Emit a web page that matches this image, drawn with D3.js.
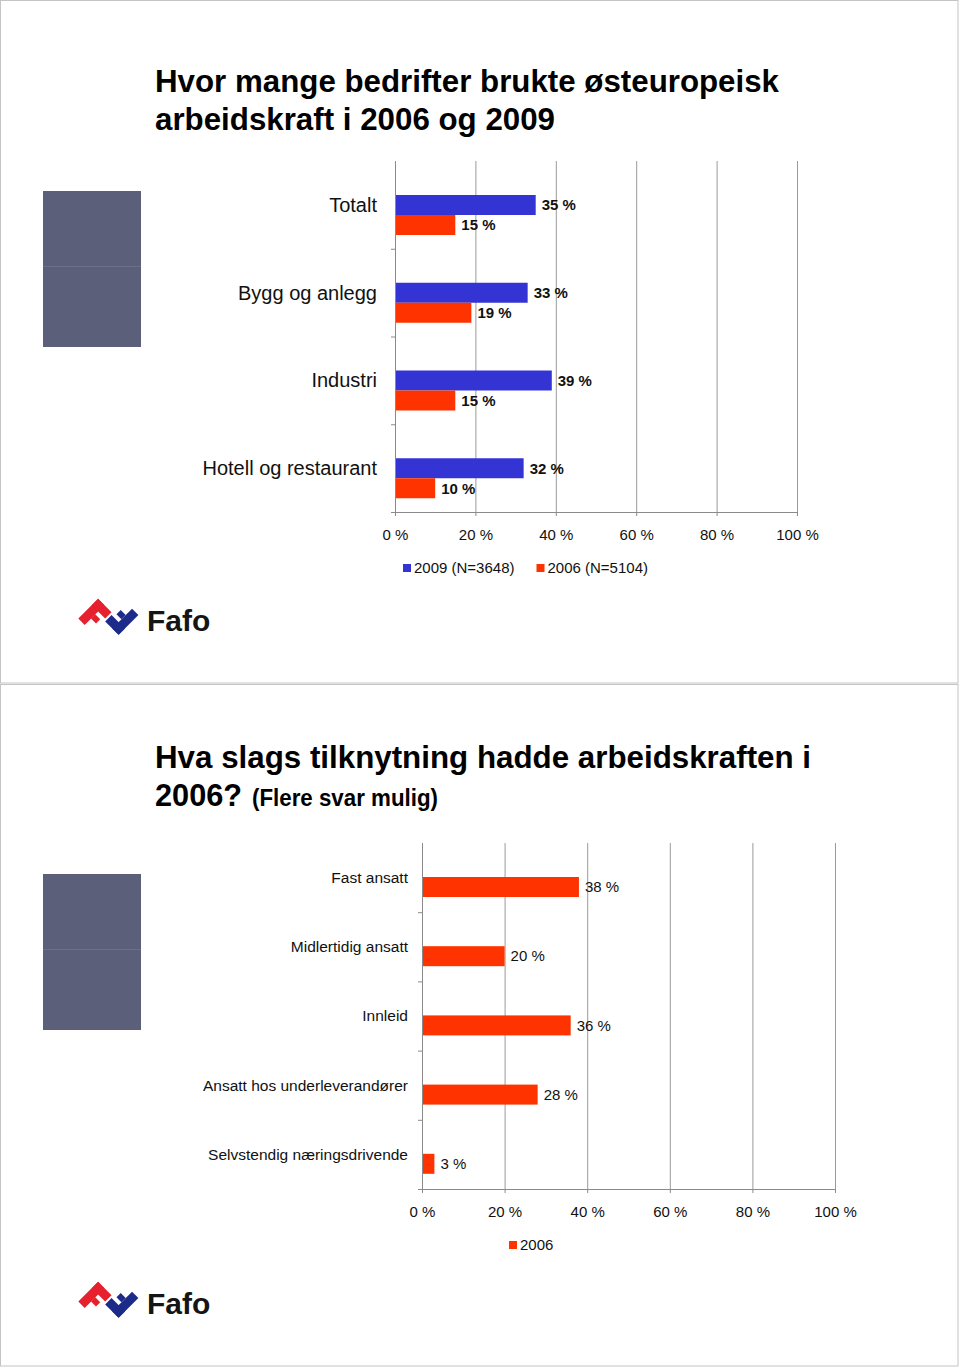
<!DOCTYPE html>
<html><head><meta charset="utf-8">
<script src="https://cdn.jsdelivr.net/npm/d3@7"></script>
<style>
html,body{margin:0;padding:0;background:#fff;}
text{font-family:"Liberation Sans",Arial,sans-serif;}
</style></head>
<body>
<script>
// ---------- DATA ----------
const categories1 = ["Totalt", "Bygg og anlegg", "Industri", "Hotell og restaurant"];
const values2009 = [35, 33, 39, 32];
const values2006 = [15, 19, 15, 10];
const seriesNames1 = ["2009 (N=3648)", "2006 (N=5104)"];

const categories2 = ["Fast ansatt", "Midlertidig ansatt", "Innleid", "Ansatt hos underleverandører", "Selvstendig næringsdrivende"];
const values2006b = [38, 20, 36, 28, 3];
const seriesNames2 = ["2006"];

const tickValues = [0, 20, 40, 60, 80, 100];
const tickLabels = ["0 %", "20 %", "40 %", "60 %", "80 %", "100 %"];

const title1 = ["Hvor mange bedrifter brukte østeuropeisk", "arbeidskraft i 2006 og 2009"];
const title2 = ["Hva slags tilknytning hadde arbeidskraften i", "2006?", "(Flere svar mulig)"];

// ---------- STYLE ----------
const BLUE = "#3434d4", RED = "#ff3300", GRID = "#9a9a9a", AXIS = "#8a8a8a";
const W = 960, H = 1367;

const svg = d3.select("body").append("svg").attr("width", W).attr("height", H);
svg.append("rect").attr("width", W).attr("height", H).attr("fill", "#fff");

// slide frames
svg.append("rect").attr("x", 0.5).attr("y", 0.5).attr("width", 957.5).attr("height", 682.5)
  .attr("fill", "none").attr("stroke", "#c4c4c4");
svg.append("rect").attr("x", 0.5).attr("y", 684.5).attr("width", 957.5).attr("height", 681.5)
  .attr("fill", "none").attr("stroke", "#c4c4c4");

function greyBlock(y0) {
  svg.append("rect").attr("x", 43).attr("y", y0).attr("width", 98).attr("height", 156).attr("fill", "#5c5f79");
  svg.append("line").attr("x1", 43).attr("x2", 141).attr("y1", y0 + 75.5).attr("y2", y0 + 75.5)
    .attr("stroke", "#6c6f88").attr("stroke-width", 1);
}

function logo(cx, cy) {
  const g = svg.append("g").attr("transform", `translate(${cx},${cy}) rotate(-45)`);
  // red "F": stem, top arm, middle stub   [u, v, du, dv]
  const red = [[-20, -22, 28, 9], [-1, -22, 9, 19], [-11, -13, 6, 7]];
  // blue "F": the red one turned half a round
  const blue = red.map(r => [5 - r[0] - r[2], -4 - r[1] - r[3], r[2], r[3]]);
  red.forEach(r => g.append("rect").attr("x", r[0]).attr("y", r[1]).attr("width", r[2]).attr("height", r[3]).attr("fill", "#e6202c"));
  blue.forEach(r => g.append("rect").attr("x", r[0]).attr("y", r[1]).attr("width", r[2]).attr("height", r[3]).attr("fill", "#1c2a8a"));
  svg.append("text").attr("x", cx + 39).attr("y", cy + 11).attr("font-size", 30).attr("font-weight", "bold")
    .attr("fill", "#151515").text("Fafo");
}

function chart(opts) {
  const x = d3.scaleLinear().domain([0, 100]).range(opts.xr);
  const y = d3.scaleBand().domain(opts.cats).range(opts.yr);
  const sub = d3.scaleBand().domain(opts.series.map((s, i) => i)).range(opts.sub);
  const g = svg.append("g");

  // grid
  g.append("g").attr("transform", `translate(0,${opts.yr[1]})`)
    .call(d3.axisBottom(x).tickValues(tickValues.slice(1)).tickSize(-(opts.yr[1] - opts.yr[0])).tickFormat(""))
    .call(a => a.select(".domain").remove())
    .call(a => a.selectAll("line").attr("stroke", GRID).attr("stroke-width", 1));

  // x axis
  const xa = g.append("g").attr("transform", `translate(0,${opts.yr[1]})`)
    .call(d3.axisBottom(x).tickValues(tickValues).tickSize(4).tickSizeOuter(0)
      .tickFormat((d, i) => tickLabels[i]));
  xa.select(".domain").attr("stroke", AXIS).attr("d", `M${opts.xr[0] - 4},0.5H${opts.xr[1]}`);
  xa.selectAll("line").attr("stroke", AXIS);
  xa.selectAll("text").attr("y", 23).attr("dy", "0.35em").attr("font-size", 15)
    .attr("font-family", '"Liberation Sans",Arial,sans-serif').attr("fill", "#111");

  // y axis
  const ya = g.append("g").attr("transform", `translate(${opts.xr[0]},0)`)
    .call(d3.axisLeft(y).tickSize(0).tickFormat(""));
  ya.select(".domain").attr("stroke", AXIS).attr("d", `M0.5,${opts.yr[0]}V${opts.yr[1]}`);
  // category boundary ticks
  g.selectAll(".btick").data(opts.cats.slice(1)).join("line")
    .attr("x1", opts.xr[0] - 4).attr("x2", opts.xr[0])
    .attr("y1", d => y(d) + 0.5).attr("y2", d => y(d) + 0.5).attr("stroke", AXIS);

  // category labels
  g.selectAll(".clab").data(opts.cats).join("text")
    .attr("x", opts.labelX).attr("y", d => y(d) + y.bandwidth() / 2).attr("dy", "0.35em")
    .attr("text-anchor", "end").attr("font-size", opts.catSize).attr("fill", "#111").text(d => d);

  // bars
  opts.series.forEach((s, si) => {
    const rows = opts.cats.map((c, i) => ({ c, v: s.values[i] }));
    g.selectAll(".bar" + si).data(rows).join("rect")
      .attr("x", x(0) + 1).attr("y", d => y(d.c) + sub(si))
      .attr("width", d => x(d.v) - x(0) - 1).attr("height", sub.bandwidth())
      .attr("fill", s.color);
    g.selectAll(".val" + si).data(rows).join("text")
      .attr("x", d => x(d.v) + 6).attr("y", d => y(d.c) + sub(si) + sub.bandwidth() / 2).attr("dy", "0.35em")
      .attr("font-size", 15).attr("font-weight", opts.valWeight).attr("fill", "#111").text(d => d.v + " %");
  });

  // legend
  let lx = opts.legendX;
  opts.series.forEach(s => {
    g.append("rect").attr("x", lx).attr("y", opts.legendY - 4).attr("width", 8).attr("height", 8).attr("fill", s.color);
    const t = g.append("text").attr("x", lx + 11).attr("y", opts.legendY).attr("dy", "0.35em")
      .attr("font-size", 15).attr("fill", "#111").text(s.name);
    lx += 11 + t.node().getComputedTextLength() + 22;
  });
}

// ---------- SLIDE 1 ----------
svg.append("text").attr("x", 155).attr("y", 92).attr("font-size", 32).attr("font-weight", "bold")
  .attr("textLength", 624).attr("lengthAdjust", "spacingAndGlyphs").attr("fill", "#000").text(title1[0]);
svg.append("text").attr("x", 155).attr("y", 130).attr("font-size", 32).attr("font-weight", "bold")
  .attr("textLength", 400).attr("lengthAdjust", "spacingAndGlyphs").attr("fill", "#000").text(title1[1]);
greyBlock(191);
chart({
  cats: categories1, xr: [395, 797], yr: [161, 512], sub: [34, 74],
  series: [{ name: seriesNames1[0], values: values2009, color: BLUE }, { name: seriesNames1[1], values: values2006, color: RED }],
  labelX: 377, catSize: 20, valWeight: "bold", legendX: 403, legendY: 568
});
logo(108, 620);

// ---------- SLIDE 2 ----------
svg.append("text").attr("x", 155).attr("y", 768).attr("font-size", 32).attr("font-weight", "bold")
  .attr("textLength", 656).attr("lengthAdjust", "spacingAndGlyphs").attr("fill", "#000").text(title2[0]);
svg.append("text").attr("x", 155).attr("y", 806).attr("font-size", 32).attr("font-weight", "bold")
  .attr("textLength", 87).attr("lengthAdjust", "spacingAndGlyphs").attr("fill", "#000").text(title2[1]);
svg.append("text").attr("x", 252).attr("y", 806).attr("font-size", 23).attr("font-weight", "bold")
  .attr("textLength", 186).attr("lengthAdjust", "spacingAndGlyphs").attr("fill", "#000").text(title2[2]);
greyBlock(874);
chart({
  cats: categories2, xr: [422, 835], yr: [843, 1189], sub: [34, 54],
  series: [{ name: seriesNames2[0], values: values2006b, color: RED }],
  labelX: 408, catSize: 15.5, valWeight: "normal", legendX: 509, legendY: 1245
});
logo(108, 1303);
</script>
</body></html>
